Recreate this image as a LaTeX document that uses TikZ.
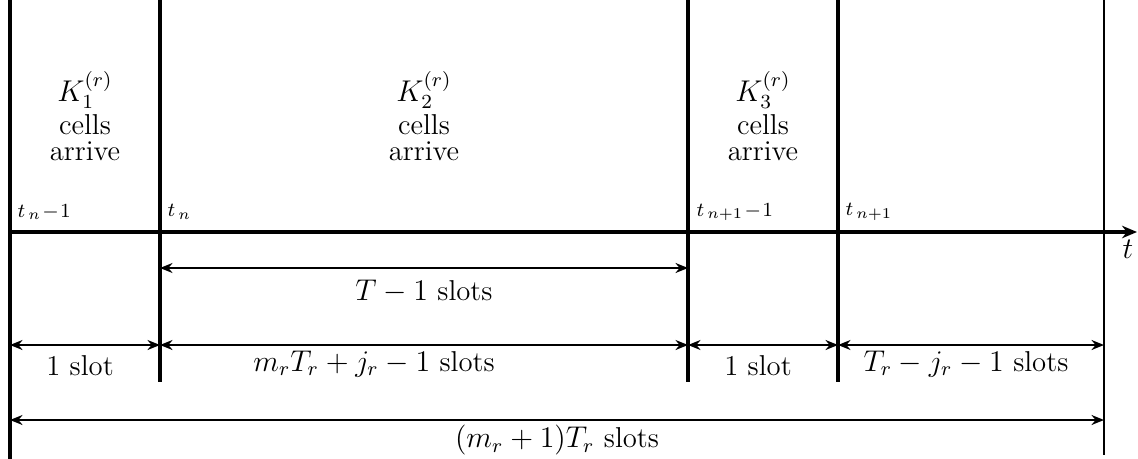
\documentclass[tikz,border=0pt]{standalone}
\usetikzlibrary{arrows.meta}
\begin{document}
\begin{tikzpicture}[x=0.4pt,y=-0.4pt,
  vline/.style={line width=1.4pt},
  thinv/.style={line width=0.9pt},
  axis/.style={line width=1.6pt,-{Stealth[length=6pt,width=5pt]}},
  dim/.style={line width=0.8pt,{Stealth[length=5pt,width=4pt]}-{Stealth[length=5pt,width=4pt]}},
  lbl/.style={font=\fontsize{11.5}{14}\selectfont,inner sep=0pt},
  tick/.style={font=\footnotesize,inner sep=0pt,anchor=west},
  top/.style={font=\fontsize{11.5}{14}\selectfont,inner sep=0pt,anchor=base}]
\useasboundingbox (0,0) rectangle (1138,459);
% vertical lines
\coordinate (a0) at (10,0); \coordinate (a1) at (10,459);
\coordinate (b0) at (160,0); \coordinate (b1) at (160,382);
\coordinate (c0) at (688,0); \coordinate (c1) at (688,382);
\coordinate (d0) at (838,0); \coordinate (d1) at (838,382);
\coordinate (e0) at (1104,0); \coordinate (e1) at (1104,455);
\draw[vline] (a0) -- (a1);
\draw[vline] (b0) -- (b1);
\draw[vline] (c0) -- (c1);
\draw[vline] (d0) -- (d1);
\draw[thinv] (e0) -- (e1);
% axis
\coordinate (ax0) at (10,232); \coordinate (ax1) at (1137,232);
\draw[axis] (ax0) -- (ax1);
\node[lbl] (tl) at (1128,249) {$t$};
% tick labels
\node[tick] (t1) at (17,212) {$t_{\,n}\!-\!1$};
\node[tick] (t2) at (167,212) {$t_{\,n}$};
\node[tick] (t3) at (696,212) {$t_{\,n+1}\!-\!1$};
\node[tick] (t4) at (845,212) {$t_{\,n+1}$};
% top labels
\node[top] (k1) at (85,102) {$K_1^{(r)}$};
\node[top] (c1t) at (85,135) {cells};
\node[top] (r1t) at (85,160) {arrive};
\node[top] (k2) at (424,102) {$K_2^{(r)}$};
\node[top] (c2t) at (424,135) {cells};
\node[top] (r2t) at (424,160) {arrive};
\node[top] (k3) at (763,102) {$K_3^{(r)}$};
\node[top] (c3t) at (763,135) {cells};
\node[top] (r3t) at (763,160) {arrive};
% dimension arrows
\coordinate (p1) at (160,268); \coordinate (p2) at (688,268);
\draw[dim] (p1) -- (p2);
\node[lbl] (l1) at (424,291) {$T-1$ slots};
\coordinate (q0) at (10,345); \coordinate (q1) at (160,345);
\coordinate (q2) at (688,345); \coordinate (q3) at (838,345);
\coordinate (q4) at (1104,345);
\draw[dim] (q0) -- (q1);
\draw[dim] (q1) -- (q2);
\draw[dim] (q2) -- (q3);
\draw[dim] (q3) -- (q4);
\node[lbl] (l2) at (80,366) {1 slot};
\node[lbl] (l3) at (374,364) {$m_rT_r+j_r-1$ slots};
\node[lbl] (l4) at (758,366) {1 slot};
\node[lbl] (l5) at (966,364) {$T_r-j_r-1$ slots};
\coordinate (r0) at (10,420); \coordinate (r1) at (1104,420);
\draw[dim] (r0) -- (r1);
\node[lbl] (l6) at (557,440) {$(m_r+1)T_r$ slots};
\end{tikzpicture}
\end{document}
